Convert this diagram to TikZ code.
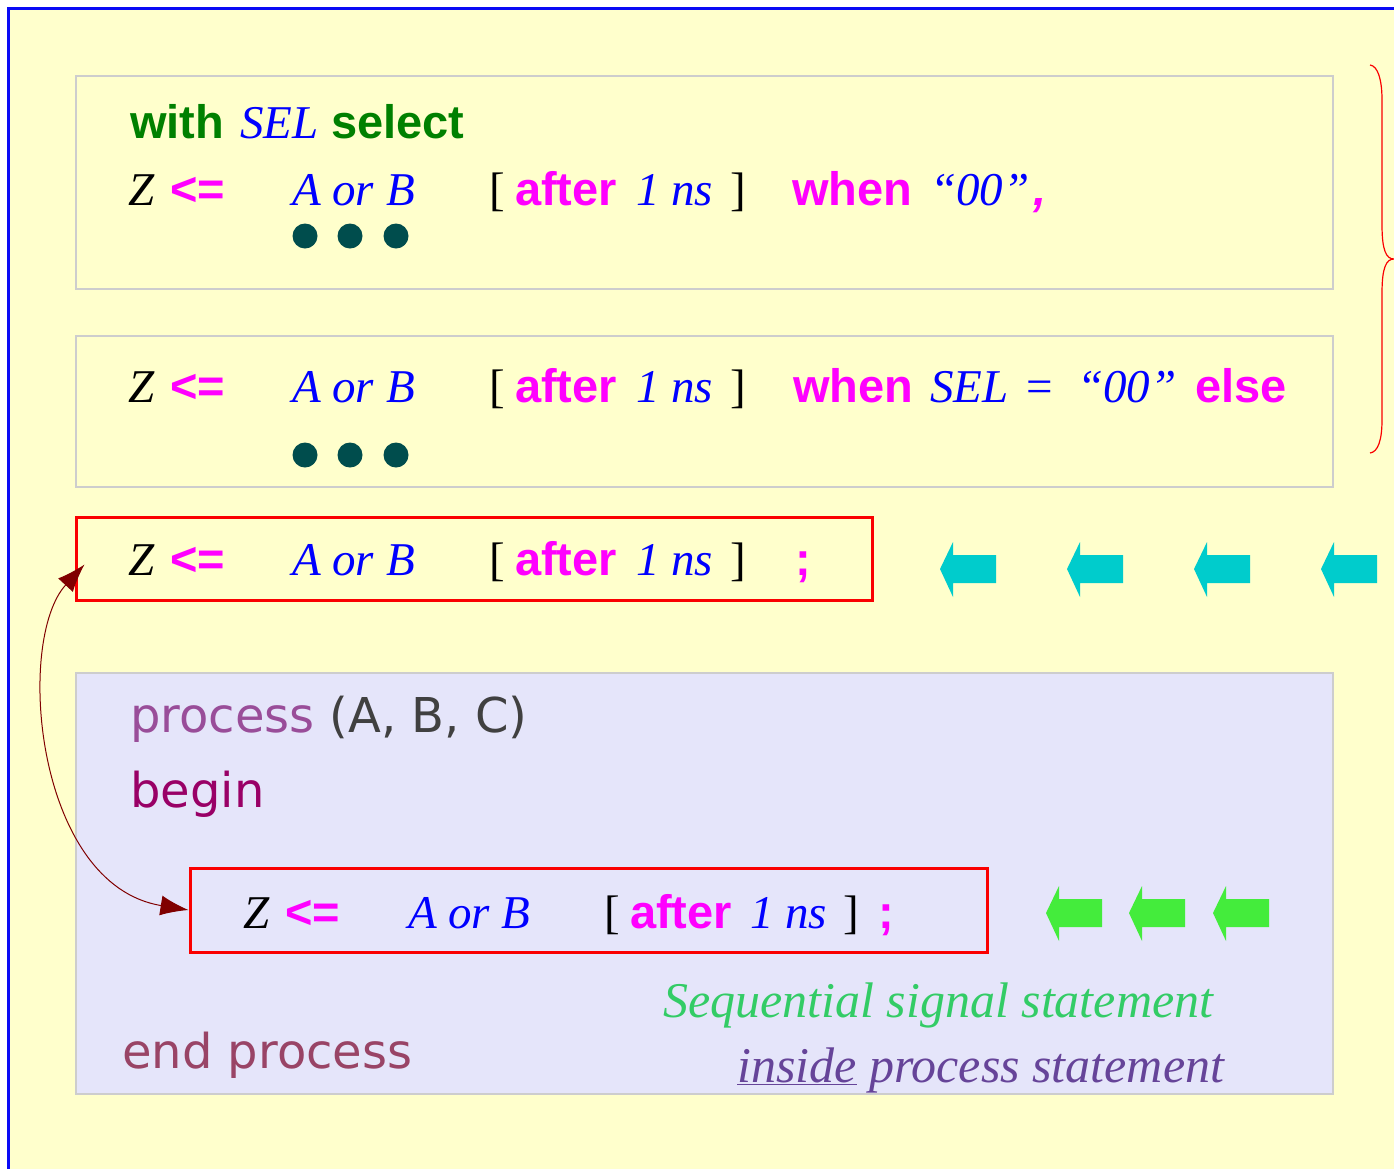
\documentclass[tikz,border=0pt]{standalone}
\usepackage{fontspec}
\setmainfont{Liberation Serif}
\newfontfamily\kwfont{Liberation Sans}
\newfontfamily\dvfont{DejaVu Sans}
\usetikzlibrary{arrows.meta}

\definecolor{bgyellow}{RGB}{255,255,204}
\definecolor{frameblue}{RGB}{10,10,245}
\definecolor{boxgray}{RGB}{205,205,205}
\definecolor{lav}{RGB}{229,229,250}
\definecolor{kwgreen}{RGB}{0,128,0}
\definecolor{magent}{RGB}{255,0,255}
\definecolor{idblue}{RGB}{0,0,255}
\definecolor{dotteal}{RGB}{0,77,77}
\definecolor{cyanar}{RGB}{0,204,204}
\definecolor{greenar}{RGB}{68,236,60}
\definecolor{darkred}{RGB}{128,0,0}
\definecolor{procpurple}{RGB}{153,77,153}
\definecolor{procgray}{RGB}{64,64,64}
\definecolor{begincol}{RGB}{153,0,102}
\definecolor{endcol}{RGB}{153,68,102}
\definecolor{seqgreen}{RGB}{51,204,102}
\definecolor{insidecol}{RGB}{102,68,153}
\definecolor{boxred}{RGB}{250,0,0}

\newcommand\fsz[1]{\fontsize{#1pt}{#1pt}\selectfont}
\newcommand\kwd[1]{{\kwfont\bfseries #1}}
\newcommand\tk[2]{\makebox[#1pt][l]{#2}}
\newcommand\blockarrow[3]{\fill[#1] (#2,#3) -- ++(13,-27) -- ++(0,13) -- ++(43,0) -- ++(0,28) -- ++(-43,0) -- ++(0,14) -- cycle;}

\begin{document}
\begin{tikzpicture}[x=1pt,y=-1pt,
  codeline/.style={anchor=base west, inner sep=0pt, outer sep=0pt, font=\fsz{47}},
  graybox/.style={draw=boxgray, line width=1.5pt, inner sep=0pt},
  redbox/.style={draw=boxred, line width=3pt, inner sep=0pt},
  proctext/.style={anchor=base west, inner sep=0pt, font=\dvfont\fsz{48}},
  note/.style={anchor=base west, inner sep=0pt, font=\itshape\fsz{50}},
  tip/.style={Latex[length=28pt,width=20pt]}]

\clip (0,0) rectangle (1394,1168);
\fill[white] (0,0) rectangle (1394,1168);
\draw[frameblue, line width=3pt, fill=bgyellow] (8.5,8.5) rectangle (1430,1200);

% boxes
\node[graybox, fill=bgyellow, minimum width=1257pt, minimum height=213pt] (b1) at (704.5,182.5) {};
\node[graybox, fill=bgyellow, minimum width=1257pt, minimum height=151pt] (b2) at (704.5,411.5) {};
\node[redbox, minimum width=796pt, minimum height=83pt] (r3) at (474,558.5) {};
\node[graybox, fill=lav, minimum width=1257pt, minimum height=421pt] (pb) at (704.5,883.5) {};
\node[redbox, minimum width=797pt, minimum height=84pt] (r4) at (588.5,910) {};

% box 1
\node[codeline] (l1) at (130,138) {\tk{110}{\color{kwgreen}\kwd{with}}\tk{91}{\color{idblue}\itshape SEL}{\color{kwgreen}\kwd{select}}};
\node[codeline] (l2) at (128,205) {\tk{42}{\itshape Z}\tk{122}{\color{magent}\kwd{<=}}\tk{197}{\color{idblue}\itshape A or B}\tk{26}{[}\tk{121}{\color{magent}\kwd{after}}\tk{94}{\color{idblue}\itshape 1 ns}\tk{62}{]}\tk{138}{\color{magent}\kwd{when}}\tk{103}{\color{idblue}\itshape “00”}{\color{magent}\kwd{\itshape ,}}};
\foreach \dx in {305,350,396} {\fill[dotteal] (\dx,236) circle (12.5);}

% box 2
\node[codeline] (l3) at (128,402) {\tk{42}{\itshape Z}\tk{122}{\color{magent}\kwd{<=}}\tk{197}{\color{idblue}\itshape A or B}\tk{26}{[}\tk{121}{\color{magent}\kwd{after}}\tk{94}{\color{idblue}\itshape 1 ns}\tk{63}{]}\tk{137}{\color{magent}\kwd{when}}\tk{96}{\color{idblue}\itshape SEL}\tk{51}{\color{idblue}=}\tk{118}{\color{idblue}\itshape “00”}{\color{magent}\kwd{else}}};
\foreach \dx in {305,350,396} {\fill[dotteal] (\dx,455) circle (12.5);}

% red box 3
\node[codeline] (l4) at (128,575) {\tk{42}{\itshape Z}\tk{122}{\color{magent}\kwd{<=}}\tk{197}{\color{idblue}\itshape A or B}\tk{26}{[}\tk{121}{\color{magent}\kwd{after}}\tk{94}{\color{idblue}\itshape 1 ns}\tk{65}{]}{\color{magent}\kwd{;}}};
\foreach \tx in {940,1067,1194,1321} {\blockarrow{cyanar}{\tx}{569}}

% process box
\node[proctext] (p1) at (130,732) {\color{procpurple}process \color{procgray}(A, B, C)};
\node[proctext] (p2) at (130,807) {\color{begincol}begin};
\node[proctext] (p3) at (122,1068) {\color{endcol}end process};
\node[codeline] (l5) at (243,928) {\tk{42}{\itshape Z}\tk{123}{\color{magent}\kwd{<=}}\tk{196}{\color{idblue}\itshape A or B}\tk{26}{[}\tk{120}{\color{magent}\kwd{after}}\tk{93}{\color{idblue}\itshape 1 ns}\tk{35}{]}{\color{magent}\kwd{;}}};
\foreach \tx in {1046,1129,1213} {\blockarrow{greenar}{\tx}{913}}

\node[note, text=seqgreen] (n1) at (663,1017) {Sequential signal statement};
\node[note, text=insidecol] (n2) at (737,1082) {\underline{inside} process statement};

% connector
\draw[darkred, line width=1pt, {Latex[length=28pt,width=20pt]}-{Latex[length=28pt,width=20pt]}]
  ([xshift=10pt,yshift=-6pt]r3.west) .. controls (15,640) and (35,885) .. (r4.west);

% brace
\draw[boxred, line width=1.2pt] (1370,65) .. controls (1378,66) and (1382,80) .. (1382,100) -- (1382,225)
  .. controls (1382,250) and (1386,259) .. (1394,259)
  .. controls (1386,259) and (1382,268) .. (1382,293) -- (1382,420)
  .. controls (1382,440) and (1378,452) .. (1370,453);
\end{tikzpicture}
\end{document}
